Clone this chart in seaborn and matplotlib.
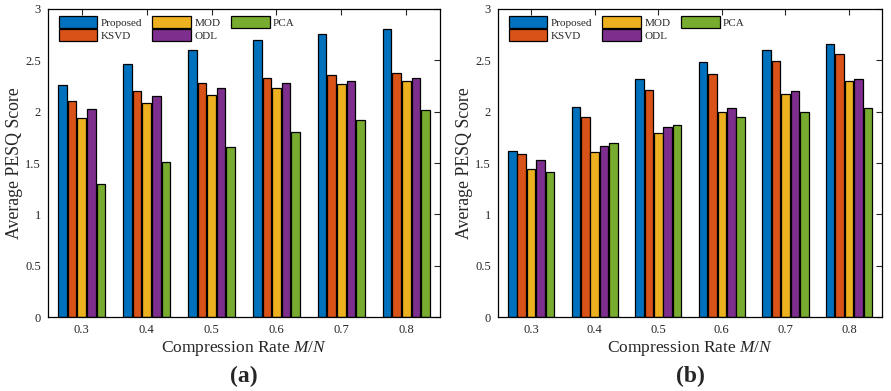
import numpy as np
import pandas as pd
import matplotlib
matplotlib.use("Agg")
import matplotlib.pyplot as plt
import seaborn as sns

rates = ["0.3", "0.4", "0.5", "0.6", "0.7", "0.8"]
methods = ["Proposed", "KSVD", "MOD", "ODL", "PCA"]
colors = ["#0072BD", "#D95319", "#EDB120", "#7E2F8E", "#77AC30"]

# Panel (a)
a_proposed = [2.26, 2.46, 2.60, 2.70, 2.76, 2.81]
a_ksvd = [2.10, 2.20, 2.28, 2.33, 2.36, 2.38]
a_mod = [1.94, 2.08, 2.16, 2.23, 2.27, 2.30]
a_odl = [2.03, 2.15, 2.23, 2.28, 2.30, 2.33]
a_pca = [1.30, 1.51, 1.66, 1.80, 1.92, 2.02]

# Panel (b)
b_proposed = [1.62, 2.05, 2.32, 2.48, 2.60, 2.66]
b_ksvd = [1.59, 1.95, 2.21, 2.37, 2.49, 2.56]
b_mod = [1.44, 1.61, 1.79, 2.00, 2.17, 2.30]
b_odl = [1.53, 1.67, 1.85, 2.04, 2.20, 2.32]
b_pca = [1.41, 1.70, 1.87, 1.95, 2.00, 2.04]

yticks = [0, 0.5, 1, 1.5, 2, 2.5, 3]
ytick_labels = ["0", "0.5", "1", "1.5", "2", "2.5", "3"]


def to_long(series):
    rows = []
    for m, vals in zip(methods, series):
        for r, v in zip(rates, vals):
            rows.append({"rate": r, "method": m, "score": v})
    return pd.DataFrame(rows)


sns.set_style("white")
plt.rcParams["font.family"] = ["Liberation Serif", "DejaVu Serif"]
plt.rcParams["mathtext.fontset"] = "custom"
plt.rcParams["mathtext.it"] = "Liberation Serif:italic"
plt.rcParams["mathtext.rm"] = "Liberation Serif"

fig = plt.figure(figsize=(8.91, 3.91), dpi=100)
ax1 = fig.add_axes([0.0539, 0.189, 0.4399, 0.788])
ax2 = fig.add_axes([0.559, 0.189, 0.431, 0.788])

panels = [
    (ax1, [a_proposed, a_ksvd, a_mod, a_odl, a_pca], "(a)"),
    (ax2, [b_proposed, b_ksvd, b_mod, b_odl, b_pca], "(b)"),
]

for ax, series, tag in panels:
    df = to_long(series)
    sns.barplot(data=df, x="rate", y="score", hue="method", hue_order=methods,
                palette=colors, width=0.74, gap=0.1, edgecolor="black",
                linewidth=0.9, saturation=1, ax=ax, legend=True)
    ax.set_xlim(-0.52, 5.52)
    ax.set_ylim(0, 3)
    ax.set_yticks(yticks)
    ax.set_yticklabels(ytick_labels)
    ax.tick_params(direction="in", length=4, width=0.8, labelsize=9,
                   top=True, right=True, pad=5)
    for s in ax.spines.values():
        s.set_visible(True)
        s.set_color("black")
        s.set_linewidth(0.9)
    ax.set_xlabel("Compression Rate $M/N$", fontsize=12.5, labelpad=2)
    ax.set_ylabel("Average PESQ Score", fontsize=12.8, labelpad=2)
    handles, labels = ax.get_legend_handles_labels()
    ax.legend(handles, labels, loc="upper left", ncol=3, frameon=False,
              fontsize=8, handlelength=3.5, handleheight=1.35,
              columnspacing=0.9, labelspacing=0.05, handletextpad=0.3,
              borderaxespad=0.2, bbox_to_anchor=(0.01, 1.0))
    bbox = ax.get_position()
    fig.text((bbox.x0 + bbox.x1) / 2, 0.038, tag, ha="center", va="center",
             fontsize=17, fontweight="bold")

fig.savefig("out.png", dpi=100)
